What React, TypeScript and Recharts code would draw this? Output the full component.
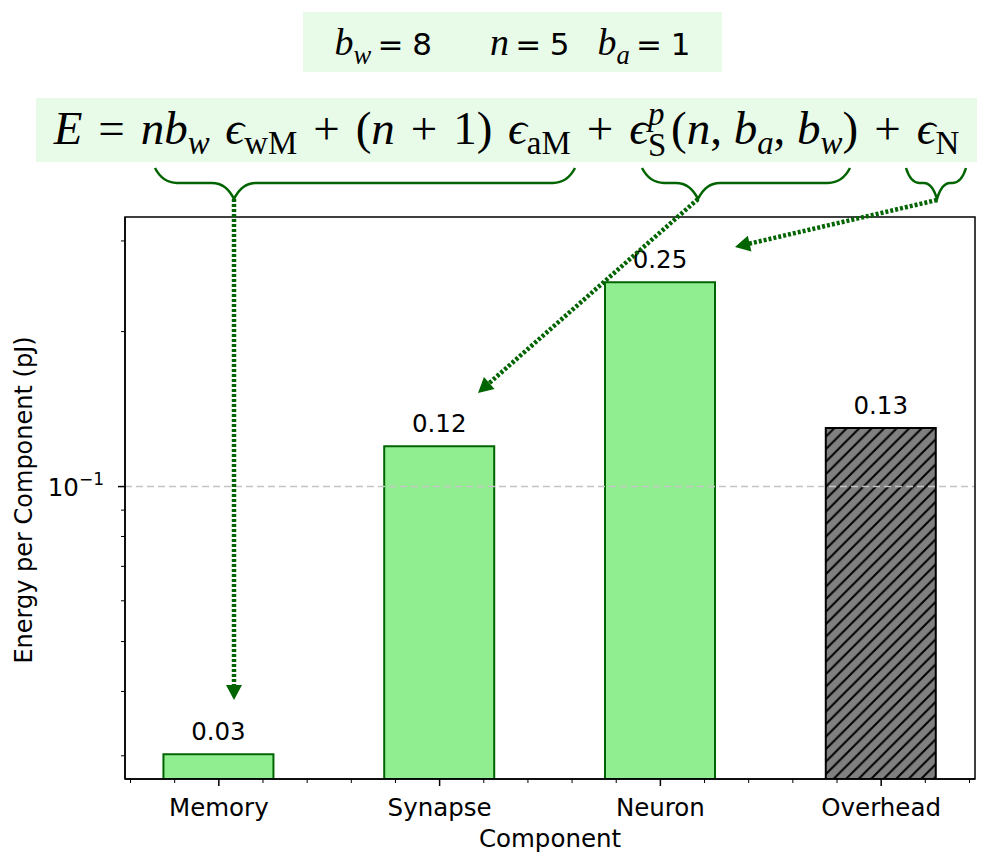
import React from "react";
import { Bar, BarChart, Cell, LabelList, ReferenceLine, XAxis, YAxis } from "recharts";

const categories = ["Memory", "Synapse", "Neuron", "Overhead"];
const energies = [0.0302, 0.1198, 0.2495, 0.1299];
const valueLabels = ["0.03", "0.12", "0.25", "0.13"];
const xTicks = [-0.4, -0.2, 0, 0.2, 0.4, 0.6, 0.8, 1, 1.2, 1.4, 1.6, 1.8, 2, 2.2, 2.4, 2.6, 2.8, 3, 3.2, 3.4];
const yTicks = [0.03, 0.04, 0.05, 0.06, 0.07, 0.08, 0.09, 0.1, 0.2, 0.3];
const xDomain = [-0.425, 3.425];
const yDomain = [0.02704, 0.3339];

const data = categories.map((name, i) => ({ pos: i, name, energy: energies[i], label: valueLabels[i] }));

const W = 997;
const H = 854;
const GREEN = "#006400";
const SANS = "'DejaVu Sans', sans-serif";
const SERIF = "'Liberation Serif', 'DejaVu Serif', serif";

function XTick({ x, y, payload }: any) {
  const v = payload.value;
  const major = Math.abs(v - Math.round(v)) < 1e-6;
  return (
    <g>
      <line x1={x} x2={x} y1={y} y2={y + (major ? 7 : 4)} stroke="#000" strokeWidth={major ? 1.5 : 1} />
      {major && (
        <text x={x} y={y + 37} textAnchor="middle" fontSize={24.5} fontFamily={SANS} fill="#000">
          {categories[Math.round(v)]}
        </text>
      )}
    </g>
  );
}

function YTick({ x, y, payload }: any) {
  const major = Math.abs(payload.value - 0.1) < 1e-9;
  return (
    <g>
      <line x1={x - (major ? 7 : 4)} x2={x} y1={y} y2={y} stroke="#000" strokeWidth={major ? 1.5 : 1} />
      {major && (
        <text x={x - 21} y={y + 9} textAnchor="end" fontSize={24.5} fontFamily={SANS} fill="#000">
          10
          <tspan dy={-11} fontSize={17}>−1</tspan>
        </text>
      )}
    </g>
  );
}

// curly brace opening downwards, tip at xt
function bracePath(x1: number, x2: number, xt: number, y0: number, h: number) {
  const mid = y0 + h * 0.48;
  const r = Math.min(22, (xt - x1) / 2.2, (x2 - xt) / 2.2);
  return [
    `M${x1},${y0}`,
    `Q${x1 + r * 0.35},${mid} ${x1 + r},${mid}`,
    `L${xt - r},${mid}`,
    `Q${xt - r * 0.35},${mid} ${xt},${y0 + h}`,
    `Q${xt + r * 0.35},${mid} ${xt + r},${mid}`,
    `L${x2 - r},${mid}`,
    `Q${x2 - r * 0.35},${mid} ${x2},${y0}`,
  ].join(" ");
}

function Arrow({ from, to }: { from: [number, number]; to: [number, number] }) {
  const dx = to[0] - from[0];
  const dy = to[1] - from[1];
  const len = Math.hypot(dx, dy);
  const ux = dx / len;
  const uy = dy / len;
  const hl = 15;
  const hw = 8;
  const bx = to[0] - ux * hl;
  const by = to[1] - uy * hl;
  return (
    <g>
      <line x1={from[0]} y1={from[1]} x2={bx + ux * 2} y2={by + uy * 2} stroke={GREEN} strokeWidth={4.5} strokeDasharray="3 2" />
      <polygon
        points={`${to[0]},${to[1]} ${bx - uy * hw},${by + ux * hw} ${bx + uy * hw},${by - ux * hw}`}
        fill={GREEN}
      />
    </g>
  );
}

const I = ({ children }: any) => <span style={{ fontStyle: "italic" }}>{children}</span>;
const Sub = ({ children, it }: any) => (
  <span style={{ fontSize: "0.7em", verticalAlign: "-0.32em", lineHeight: 0, fontStyle: it ? "italic" : "normal" }}>
    {children}
  </span>
);
const Op = ({ children }: any) => <span style={{ margin: "0 0.34em" }}>{children}</span>;
const Sp = () => <span style={{ display: "inline-block", width: "0.33em" }} />;
const Eq = ({ v }: { v: string }) => (
  <span style={{ fontFamily: SANS, fontSize: 31 }}>
    <span style={{ margin: "0 0.28em 0 0.2em" }}>=</span>
    {v}
  </span>
);

const boxStyle = {
  position: "absolute" as const,
  background: "#e8fbe8",
  display: "flex",
  alignItems: "center",
  justifyContent: "center",
  fontFamily: SERIF,
  whiteSpace: "pre" as const,
};

export default function App() {
  return (
    <div style={{ position: "relative", width: W, height: H, background: "#fff" }}>
      <style>{"body{margin:0}"}</style>
      <svg width={0} height={0} style={{ position: "absolute" }}>
        <defs>
          <pattern id="hatch" width={12.5} height={12.5} patternUnits="userSpaceOnUse">
            <rect width={12.5} height={12.5} fill="#808080" />
            <path d="M-1,13.5 L13.5,-1 M-3,3 L3,-3 M9.5,15.5 L15.5,9.5" stroke="#000" strokeWidth={2} />
          </pattern>
        </defs>
      </svg>
      <BarChart width={W} height={H} data={data} margin={{ top: 217, right: 22, bottom: 35, left: 65 }}>
        <XAxis
          dataKey="pos"
          type="number"
          domain={xDomain}
          allowDataOverflow
          ticks={xTicks}
          interval={0}
          tick={<XTick />}
          tickLine={false}
          tickSize={0}
          tickMargin={0}
          height={40}
          axisLine={{ stroke: "#000", strokeWidth: 1.5 }}
        />
        <YAxis
          scale="log"
          type="number"
          domain={yDomain}
          allowDataOverflow
          ticks={yTicks}
          interval={0}
          tick={<YTick />}
          tickLine={false}
          tickSize={0}
          tickMargin={0}
          width={60}
          axisLine={{ stroke: "#000", strokeWidth: 1.5 }}
        />
        <ReferenceLine y={0.1} stroke="#c4c4c4" strokeWidth={1.5} strokeDasharray="7 4" />
        <Bar dataKey="energy" barSize={110} isAnimationActive={false}>
          {data.map((d, i) => (
            <Cell
              key={d.name}
              fill={i === 3 ? "url(#hatch)" : "#90ee90"}
              stroke={i === 3 ? "#000" : GREEN}
              strokeWidth={2}
            />
          ))}
          <LabelList dataKey="label" position="top" offset={14} fontSize={24.5} fontFamily={SANS} fill="#000" />
        </Bar>
      </BarChart>

      <svg width={W} height={H} style={{ position: "absolute", left: 0, top: 0, pointerEvents: "none" }}>
        <rect x={125} y={217} width={850} height={562} fill="none" stroke="#000" strokeWidth={1.5} />
        <path d={bracePath(155, 575, 234, 168, 31)} fill="none" stroke={GREEN} strokeWidth={2.5} />
        <path d={bracePath(642, 850, 698, 168, 31)} fill="none" stroke={GREEN} strokeWidth={2.5} />
        <path d={bracePath(906, 966, 937, 168, 31)} fill="none" stroke={GREEN} strokeWidth={2.5} />
        <Arrow from={[234, 199]} to={[234, 700]} />
        <Arrow from={[698, 199]} to={[478, 393]} />
        <Arrow from={[937, 200]} to={[735, 247]} />
        <text x={550} y={847} textAnchor="middle" fontSize={24.5} fontFamily={SANS}>
          Component
        </text>
        <text
          x={32}
          y={500}
          textAnchor="middle"
          fontSize={24}
          fontFamily={SANS}
          transform="rotate(-90 32 500)"
        >
          Energy per Component (pJ)
        </text>
      </svg>

      <div style={{ ...boxStyle, left: 303, top: 12, width: 419, height: 60, fontSize: 38 }}>
        <span>
          <I>b</I>
          <Sub it>w</Sub>
          <Eq v="8" />
          <span style={{ display: "inline-block", width: 58 }} />
          <I>n</I>
          <Eq v="5" />
          <span style={{ display: "inline-block", width: 28 }} />
          <I>b</I>
          <Sub it>a</Sub>
          <Eq v="1" />
        </span>
      </div>

      <div style={{ ...boxStyle, left: 36, top: 98, width: 941, height: 64, fontSize: 47 }}>
        <span>
          <I>E</I>
          <Op>=</Op>
          <I>n</I>
          <I>b</I>
          <Sub it>w</Sub>
          <Sp />
          <I>ϵ</I>
          <Sub>wM</Sub>
          <Op>+</Op>
          <span>(</span>
          <I>n</I>
          <Op>+</Op>
          <span>1)</span>
          <Sp />
          <I>ϵ</I>
          <Sub>aM</Sub>
          <Op>+</Op>
          <I>ϵ</I>
          <span
            style={{
              display: "inline-block",
              fontSize: "0.7em",
              lineHeight: 0.95,
              verticalAlign: "-0.38em",
              textAlign: "left",
              marginRight: "0.14em",
            }}
          >
            <span style={{ display: "block", fontStyle: "italic" }}>p</span>
            <span style={{ display: "block" }}>S</span>
          </span>
          <span>(</span>
          <I>n</I>
          <span>, </span>
          <I>b</I>
          <Sub it>a</Sub>
          <span>, </span>
          <I>b</I>
          <Sub it>w</Sub>
          <span>)</span>
          <Op>+</Op>
          <I>ϵ</I>
          <Sub>N</Sub>
        </span>
      </div>
    </div>
  );
}
